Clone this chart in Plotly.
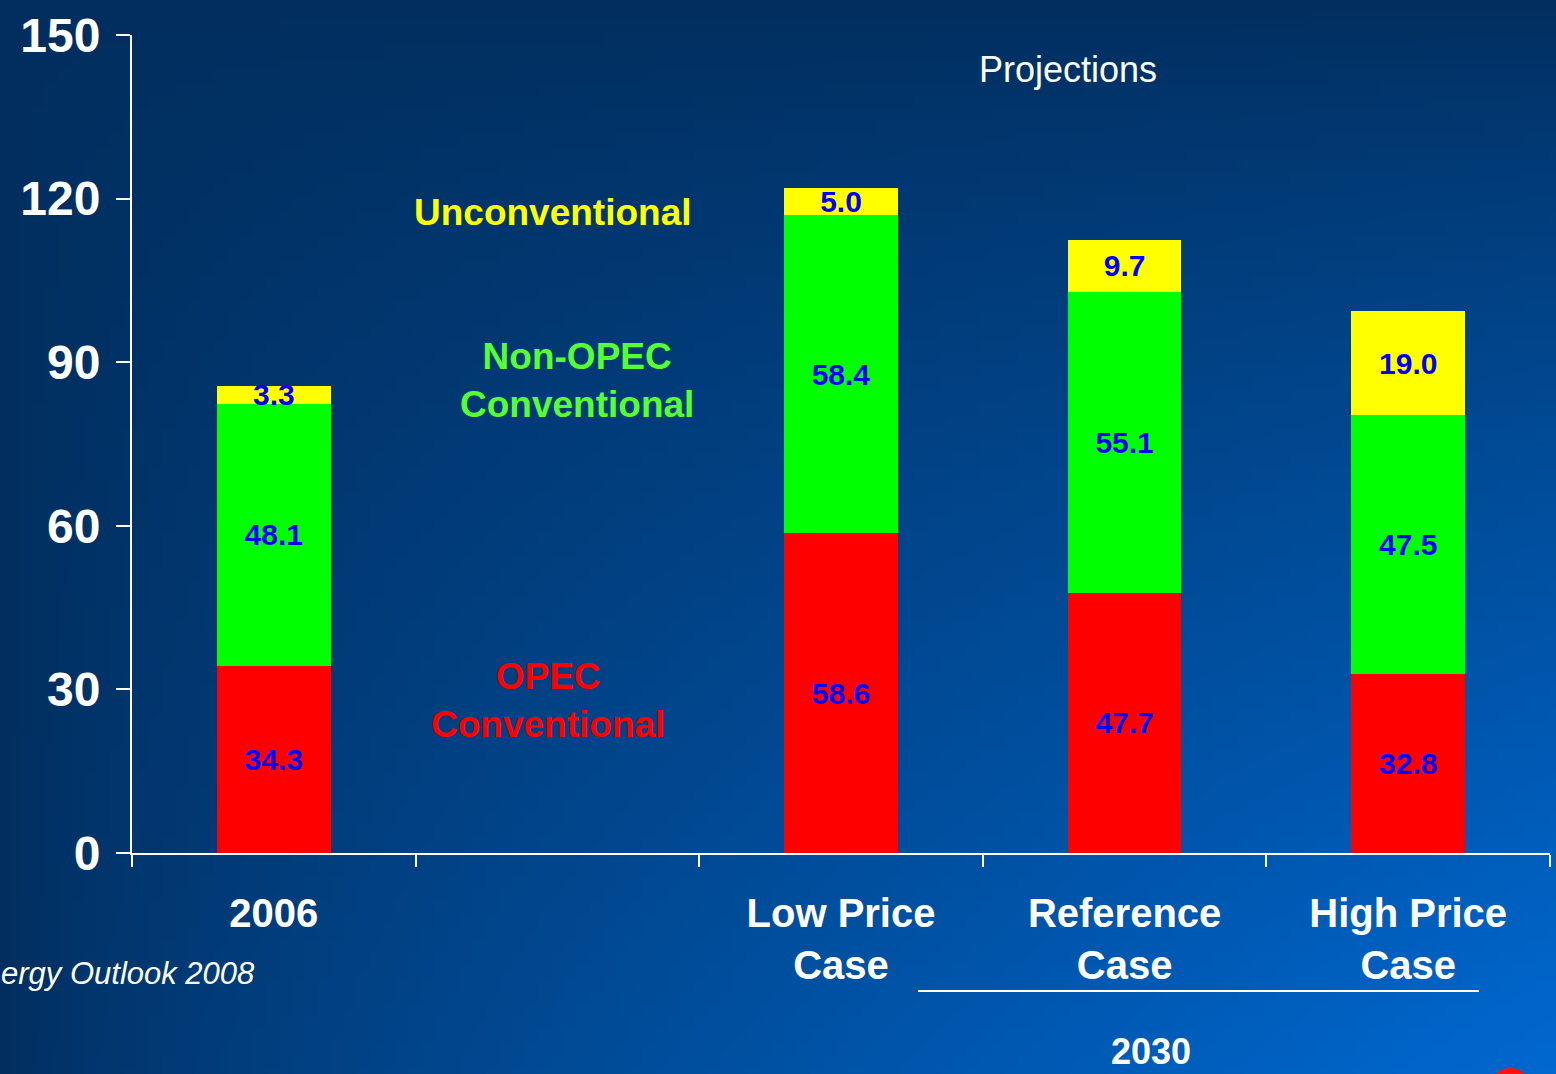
import zlib, struct, base64
import plotly.graph_objects as go

# ---------------- data ----------------
categories = ["2006", " ", "Low Price<br>Case", "Reference<br>Case", "High Price<br>Case"]
opec_conventional = [34.3, None, 58.6, 47.7, 32.8]
non_opec_conventional = [48.1, None, 58.4, 55.1, 47.5]
unconventional = [3.3, None, 5.0, 9.7, 19.0]
y_ticks = [0, 30, 60, 90, 120, 150]

# ---------------- background gradient (generated PNG) ----------------
W, H = 120, 84
dark = (1, 46, 94)
bright = (0, 104, 208)
rows = []
for j in range(H):
    yy = j / (H - 1)
    row = bytearray(b"\x00")
    for i in range(W):
        xx = i / (W - 1)
        f = (xx ** 0.7) * (yy ** 0.8)
        row += bytes(int(round(dark[k] + (bright[k] - dark[k]) * f)) for k in range(3))
    rows.append(bytes(row))
raw = b"".join(rows)


def _chunk(t, d):
    return struct.pack(">I", len(d)) + t + d + struct.pack(">I", zlib.crc32(t + d) & 0xffffffff)


png = (b"\x89PNG\r\n\x1a\n"
       + _chunk(b"IHDR", struct.pack(">IIBBBBB", W, H, 8, 2, 0, 0, 0))
       + _chunk(b"IDAT", zlib.compress(raw))
       + _chunk(b"IEND", b""))
bg_uri = "data:image/png;base64," + base64.b64encode(png).decode()


def fmt(vals):
    return ["" if v is None else f"{v:.1f}" for v in vals]


label_font = dict(family="Liberation Sans, Arial, sans-serif", size=30, color="#0000ff")

fig = go.Figure()
for name, vals, color in [
    ("OPEC Conventional", opec_conventional, "#ff0000"),
    ("Non-OPEC Conventional", non_opec_conventional, "#00ff00"),
    ("Unconventional", unconventional, "#ffff00"),
]:
    fig.add_trace(go.Bar(
        x=categories, y=vals, name=name,
        marker=dict(color=color, line=dict(width=0)),
        text=fmt(vals), textposition="inside", insidetextanchor="middle",
        textangle=0, constraintext="none",
        insidetextfont=label_font,
        texttemplate="<b>%{text}</b>",
        hoverinfo="skip",
    ))

fig.update_layout(
    width=1556, height=1074,
    barmode="stack", bargap=0.6,
    showlegend=False,
    margin=dict(l=132, r=6, t=35, b=221),
    paper_bgcolor="#013060",
    plot_bgcolor="rgba(0,0,0,0)",
    font=dict(family="Liberation Sans, Arial, sans-serif", color="white"),
    images=[dict(
        source=bg_uri, xref="paper", yref="paper",
        x=-132 / 1418, y=1 + 35 / 818, sizex=1556 / 1418, sizey=1074 / 818,
        xanchor="left", yanchor="top", sizing="stretch", layer="below",
    )],
)

fig.update_xaxes(
    type="category", categoryorder="array", categoryarray=categories,
    range=[-0.5, 4.5],
    showline=True, linecolor="white", linewidth=2,
    ticks="outside", tickson="boundaries", ticklen=12, tickwidth=2, tickcolor="white",
    ticklabelstandoff=24,
    tickfont=dict(family="Liberation Sans, Arial, sans-serif", size=40, color="white", weight="bold"),
    showgrid=False, zeroline=False,
)
fig.update_yaxes(
    range=[0, 150], tickvals=y_ticks,
    showline=True, linecolor="white", linewidth=2,
    ticks="outside", ticklen=14, tickwidth=2, tickcolor="white",
    ticklabelstandoff=6,
    tickfont=dict(family="Liberation Sans, Arial, sans-serif", size=48, color="white", weight="bold"),
    showgrid=False, zeroline=False,
)

ann_font = "Liberation Sans, Arial, sans-serif"
annotations = [
    dict(text="<b>Unconventional</b>", x=(553 - 132) / 1418, y=(853 - 213) / 818,
         font=dict(size=37, color="#ffff00", family=ann_font)),
    dict(text="<b>Non-OPEC<br>Conventional</b>", x=(577 - 132) / 1418, y=(853 - 380) / 818,
         font=dict(size=37, color="#55ff33", family=ann_font)),
    dict(text="<b>OPEC<br>Conventional</b>", x=(548 - 132) / 1418, y=(853 - 700) / 818,
         font=dict(size=37, color="#ff0000", family=ann_font)),
    dict(text="Projections", x=(1068 - 132) / 1418, y=(853 - 69) / 818,
         font=dict(size=36, color="white", family=ann_font)),
    dict(text="<b>2030</b>", x=(1151 - 132) / 1418, y=(853 - 1051) / 818,
         font=dict(size=36, color="white", family=ann_font)),
    dict(text="<i>ergy Outlook 2008</i>",
         x=(257 - 132) / 1418, y=(853 - 973) / 818, xanchor="right",
         font=dict(size=31, color="white", family=ann_font)),
]
for a in annotations:
    a.setdefault("xanchor", "center")
    fig.add_annotation(xref="paper", yref="paper", yanchor="middle", showarrow=False, **a)

fig.add_shape(type="line", xref="paper", yref="paper",
              x0=(918 - 132) / 1418, x1=(1479 - 132) / 1418,
              y0=(853 - 991) / 818, y1=(853 - 991) / 818,
              line=dict(color="white", width=2))
fig.add_shape(type="circle", xref="paper", yref="paper",
              x0=(1494 - 132) / 1418, x1=(1526 - 132) / 1418,
              y0=(853 - 1092) / 818, y1=(853 - 1068) / 818,
              fillcolor="#ff1010", line=dict(width=0))

fig.write_html("out.html")
